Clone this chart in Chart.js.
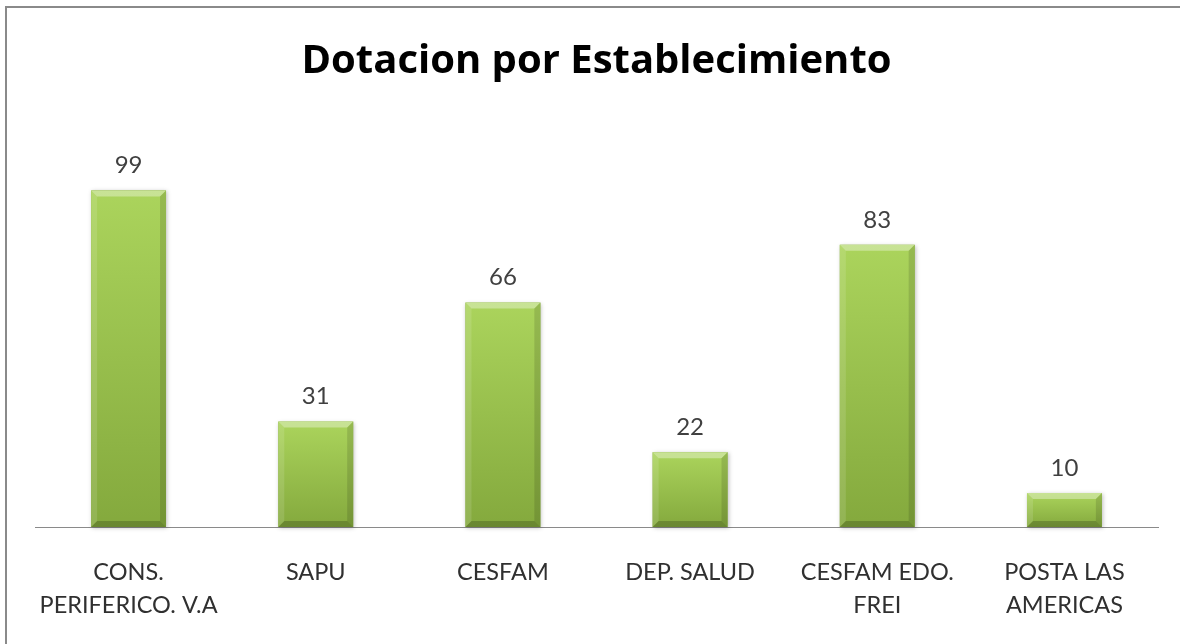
<!DOCTYPE html>
<html>
<head>
<meta charset="utf-8">
<script src="https://cdn.jsdelivr.net/npm/chart.js@4/dist/chart.umd.min.js"></script>
<style>
  html, body { margin: 0; padding: 0; background: #fff; }
  #wrap { width: 1180px; height: 644px; }
</style>
</head>
<body>
<div id="wrap"><canvas id="grafico"></canvas></div>
<script>
// datos
const categorias = [
  ["CONS.", "PERIFERICO. V.A"],
  ["SAPU"],
  ["CESFAM"],
  ["DEP. SALUD"],
  ["CESFAM EDO.", "FREI"],
  ["POSTA LAS", "AMERICAS"]
];
const dotacion = [99, 31, 66, 22, 83, 10];
const titulo = "Dotacion por Establecimiento";
const FONTE = "Lato, 'Open Sans', sans-serif";
const FONTE_TIT = "'Open Sans', Lato, sans-serif";

// marco gris arriba/izquierda
const marco = {
  id: "marco",
  beforeDraw(chart) {
    const c = chart.ctx;
    c.save();
    c.fillStyle = "#fff";
    c.fillRect(0, 0, chart.width, chart.height);
    c.fillStyle = "#8a8a8a";
    c.fillRect(5, 6, chart.width - 5, 2);
    c.fillRect(5, 6, 2, chart.height - 6);
    c.restore();
  }
};

// efecto biselado tipo Excel + etiquetas de valor
const bisel = {
  id: "bisel",
  beforeDatasetsDraw(chart) {
    const c = chart.ctx;
    chart.getDatasetMeta(0).data.forEach(bar => {
      const l = bar.x - bar.width / 2, t = bar.y;
      c.save();
      c.shadowColor = "rgba(0,0,0,0.25)";
      c.shadowBlur = 4;
      c.shadowOffsetX = 1;
      c.shadowOffsetY = 1;
      c.fillStyle = "#86ab40";
      c.fillRect(l, t, bar.width, bar.base - t);
      c.restore();
    });
  },
  afterDatasetsDraw(chart) {
    const c = chart.ctx;
    const b = 6;
    chart.getDatasetMeta(0).data.forEach((bar, i) => {
      const l = bar.x - bar.width / 2, r = bar.x + bar.width / 2;
      const t = bar.y, bo = bar.base;
      const poly = (pts, col) => {
        c.beginPath();
        c.moveTo(pts[0][0], pts[0][1]);
        pts.slice(1).forEach(p => c.lineTo(p[0], p[1]));
        c.closePath();
        c.fillStyle = col;
        c.fill();
      };
      c.save();
      poly([[l, t], [r, t], [r - b, t + b], [l + b, t + b]], "rgba(255,255,255,0.35)");
      poly([[l, t], [l + b, t + b], [l + b, bo - b], [l, bo]], "rgba(255,255,255,0.12)");
      poly([[r, t], [r, bo], [r - b, bo - b], [r - b, t + b]], "rgba(0,0,0,0.12)");
      poly([[l, bo], [l + b, bo - b], [r - b, bo - b], [r, bo]], "rgba(0,0,0,0.2)");
      c.fillStyle = "#404040";
      c.font = "24px " + FONTE;
      c.textAlign = "center";
      c.textBaseline = "middle";
      c.fillText(String(dotacion[i]), bar.x, t - 25);
      c.restore();
    });
  }
};

new Chart(document.getElementById("grafico"), {
  type: "bar",
  data: {
    labels: categorias,
    datasets: [{
      data: dotacion,
      backgroundColor(ctx) {
        const chart = ctx.chart;
        const y = chart.scales.y;
        if (!chart.chartArea || !y || ctx.raw === undefined) return "#98c24c";
        const top = y.getPixelForValue(ctx.raw);
        const g = chart.ctx.createLinearGradient(0, top, 0, chart.chartArea.bottom);
        g.addColorStop(0, "#abd45c");
        g.addColorStop(1, "#84a93d");
        return g;
      },
      borderWidth: 0,
      categoryPercentage: 1,
      barPercentage: 0.4
    }]
  },
  options: {
    responsive: true,
    maintainAspectRatio: false,
    animation: false,
    layout: { padding: { left: 35, right: 22, top: 0, bottom: 23 } },
    plugins: {
      legend: { display: false },
      tooltip: { enabled: false },
      title: {
        display: true,
        text: titulo,
        color: "#000",
        font: { family: FONTE_TIT, size: 40, weight: "bold", lineHeight: 1.2 },
        padding: { top: 38, bottom: 33 }
      }
    },
    scales: {
      x: {
        grid: { display: false },
        border: { display: true, color: "#8a8a8a", width: 1 },
        afterFit(scale) { scale.height = 94; },
        ticks: {
          color: "#303030",
          padding: 21,
          maxRotation: 0,
          autoSkip: false,
          font: { family: FONTE, size: 23.5, lineHeight: "33px" }
        }
      },
      y: { display: false, min: 0, max: 120 }
    }
  },
  plugins: [marco, bisel]
});
</script>
</body>
</html>
